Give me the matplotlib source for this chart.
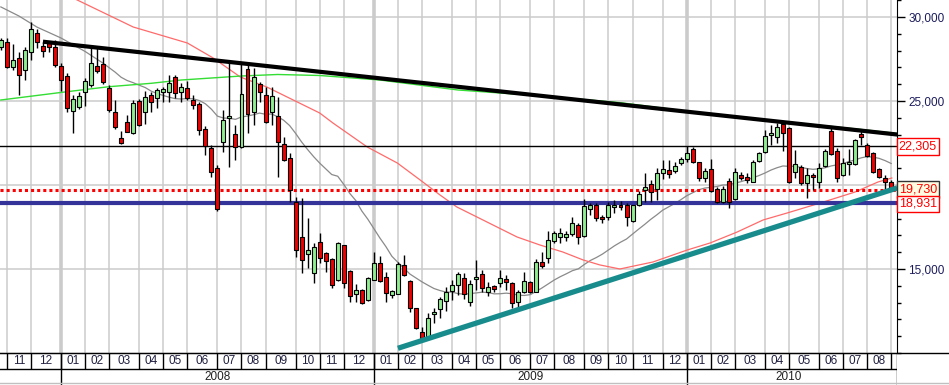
import matplotlib
matplotlib.use("Agg")
import matplotlib.pyplot as plt
from matplotlib.patches import Rectangle
from matplotlib.lines import Line2D
import numpy as np
import pandas as pd

plt.rcParams['font.family'] = ['Liberation Sans', 'DejaVu Sans']

# weekly candles, first week starts Mon 2007-10-29
first_week = '2007-10-29'

opens = [28215, 28530, 27042, 27578, 26846, 27899, 29030, 28274, 28435, 28197,
         27102, 26488, 24423, 24661, 25518, 25953, 27102, 27185, 25792, 24328,
         22780, 23733, 23078, 25000, 24316, 25358, 25161, 25554, 25554, 26411,
         25518, 25756, 25060, 24804, 23334, 22185, 20995, 22542, 23971, 23036,
         22245, 26905, 24364, 25994, 25358, 24364, 24108, 22423, 21626, 19007,
         16924, 15876, 14745, 16590, 15936, 15596, 14346, 16430, 14882, 13495,
         13751, 13156, 14346, 15340, 14507, 13454, 13495, 15239, 14305, 12662,
         11269, 10876, 12305, 12602, 13096, 13692, 14049, 14447, 13055, 14388,
         14704, 13650, 13989, 14186, 14406, 14150, 13019, 13614, 14245, 13650,
         15400, 15638, 16668, 16924, 16924, 17066, 17620, 16965, 18554, 18810,
         18114, 18078, 18709, 18810, 18810, 17858, 18810, 19703, 20060, 19745,
         20697, 20894, 20834, 21292, 21530, 22126, 21352, 20400, 20935, 19763,
         19007, 20257, 19150, 20596, 20495, 20197, 21447, 21983, 22977, 22876,
         23632, 23376, 20792, 21054, 20138, 20578, 20197, 21132, 23233, 22006,
         20596, 21251, 21233, 23036, 22382, 21923, 20935, 20400, 20179]

closes = [28631, 27042, 27441, 26548, 28036, 29286, 28494, 27994, 28197, 27143,
          26233, 24602, 25102, 25316, 26191, 27244, 26804, 26131, 24465, 23453,
          22519, 23173, 24864, 23572, 25239, 24959, 25655, 25715, 26090, 25459,
          25816, 25161, 24762, 23274, 22340, 20792, 18554, 23870, 24108, 22245,
          25399, 24227, 26447, 25518, 23768, 25298, 22542, 21489, 19703, 16132,
          15537, 16132, 16328, 15638, 15477, 14049, 16531, 14150, 13394, 13751,
          12960, 14447, 15340, 14287, 13555, 13692, 15281, 14644, 12662, 11507,
          10876, 12067, 12460, 13216, 13650, 14049, 14704, 13495, 14090, 14507,
          13888, 13948, 13829, 14447, 14245, 12960, 13614, 14287, 13614, 15400,
          15197, 16709, 17126, 17126, 17084, 17721, 16924, 18751, 18810, 18019,
          17959, 18810, 18810, 18709, 18078, 18810, 19447, 19864, 19602, 20697,
          20935, 20656, 21132, 21530, 21923, 21352, 20400, 20834, 19644, 19007,
          19763, 19007, 20792, 20435, 20298, 21388, 21923, 22917, 23114, 23471,
          23078, 20197, 21251, 20102, 20596, 20459, 20995, 22042, 21828, 20400,
          21328, 21388, 22679, 22876, 21727, 20792, 20459, 20197, 19730]

highs = [28750, 28732, 28393, 27935, 28232, 29685, 29286, 28530, 28572, 28631,
         27244, 26649, 25358, 25518, 26352, 28232, 28137, 27637, 25953, 25030,
         23215, 24167, 25060, 25090, 25578, 25518, 25756, 25852, 26548, 26548,
         26054, 26191, 25358, 24959, 23530, 22382, 21191, 24465, 27340, 23572,
         27185, 27143, 26947, 26149, 25852, 25852, 25256, 22876, 21888, 19287,
         19209, 18019, 16531, 17126, 16031, 15656, 16578, 16447, 14942, 14108,
         13781, 14543, 16031, 15793, 14840, 13751, 15436, 15834, 14346, 12698,
         11567, 12400, 12662, 13352, 13948, 14346, 14840, 14745, 14346, 15537,
         14942, 14245, 14049, 14942, 14644, 14245, 13751, 14840, 14269, 15596,
         16031, 17263, 17263, 17459, 17263, 18114, 17721, 19168, 18912, 18912,
         18215, 19007, 19108, 19066, 18912, 18830, 19644, 20697, 20298, 20995,
         21489, 21489, 21388, 21685, 22322, 22280, 21370, 20995, 21530, 19900,
         19941, 20417, 20995, 20775, 20715, 21489, 21983, 23274, 23572, 23709,
         23709, 23471, 22084, 21191, 20995, 20697, 21292, 22126, 23376, 22185,
         21590, 22126, 22721, 23274, 22483, 21983, 20995, 20596, 20298]

lows = [28036, 26947, 26846, 25358, 26250, 27441, 28173, 27637, 27899, 27042,
        25596, 24364, 23078, 24524, 24721, 25852, 26649, 26012, 24316, 23334,
        22411, 23155, 23050, 23530, 23614, 24364, 24602, 24959, 24959, 25161,
        24959, 25060, 24524, 22977, 21786, 20495, 18453, 21983, 21090, 21489,
        22185, 23078, 23572, 24959, 23673, 23572, 20495, 21429, 19007, 15733,
        14763, 15043, 14186, 15340, 14840, 13852, 14299, 13852, 13055, 13055,
        12900, 13096, 14317, 14245, 13055, 13257, 13483, 14602, 12459, 11430,
        10835, 10860, 11769, 12067, 12501, 13156, 13454, 13216, 12817, 13751,
        13614, 13412, 13650, 13948, 13751, 12698, 12662, 13555, 13590, 13614,
        15078, 15340, 16531, 16531, 16668, 16983, 16471, 16924, 18215, 17858,
        17721, 17918, 18316, 18513, 17560, 17800, 18751, 19007, 19007, 19108,
        20340, 20400, 20697, 21191, 21388, 21292, 20257, 20197, 19602, 18947,
        18929, 18614, 19108, 20298, 20120, 20179, 21388, 21888, 22382, 22483,
        22042, 20102, 20400, 20001, 19209, 19703, 19805, 21090, 21786, 20197,
        20536, 20596, 21191, 22382, 21650, 20697, 20400, 19703, 19700]

# long moving averages (week index, value)
green_ma_idx = [0, 11, 18, 25, 30, 40, 46, 53, 63, 76, 90, 103, 116, 130, 143, 149]
green_ma_val = [25060, 25554, 25852, 26054, 26250, 26488, 26578, 26518, 26250,
                25655, 25298, 24899, 24304, 23780, 23304, 23066]
red_ma_idx = [0, 12.7, 22, 31, 35.3, 39.8, 44.2, 48.6, 53, 55.2, 60.9, 65.9, 69.7,
              73, 75.8, 80.8, 85.8, 89.6, 93.4, 96.8, 99.6, 102.9, 108.4, 114.1,
              117.9, 122.4, 126.7, 130.7, 136.2, 142, 145.8, 148.1]
red_ma_val = [33214, 31012, 29405, 28453, 27560, 26429, 25834, 25060, 24286, 23691,
              22263, 21310, 20298, 19405, 18691, 17799, 16906, 16430, 16013, 15537,
              15239, 15001, 15418, 16132, 16549, 17203, 17918, 18334, 18929, 19584,
              20179, 20417]
# start of the 20-week average (needs data before the window)
gray_early_idx = [0, 3, 6, 10, 14, 17]
gray_early_val = [30600, 30060, 29400, 28750, 27950, 27250]

# drawn lines
resist_idx = [7, 149]
resist_val = [28530, 23004]
support_idx = [66, 149]
support_val = [10281, 19826]
level_black = 22305
level_last = 19730
level_blue = 18931

n = len(closes)
weeks = pd.date_range(first_week, periods=n, freq='W-MON')
xs = np.arange(n)

fig = plt.figure(figsize=(9.49, 3.85), dpi=100)
pr = 897 / 949
ax = fig.add_axes([0, 32 / 385, pr, 353 / 385])
xlim = (-0.14, 148.96)
ax.set_xlim(*xlim)
ax.set_ylim(10000, 31012)

# month boundaries
ms = [i for i in range(1, n) if weeks[i].month != weeks[i - 1].month]
ms.append(n - 1)
years = [i for i in ms[:-1] if weeks[i].month == 1]

for b in ms:
    is_year = b in years
    ax.axvline(b, color='#cbcbcb', lw=2.6 if is_year else 1.1, zorder=0)
for y in [15000, 20000, 25000, 30000]:
    ax.axhline(y, color='#cbcbcb', lw=1.1, zorder=0)

# moving averages
gray = pd.Series(closes).rolling(20).mean()
g_idx = gray_early_idx + list(range(19, n))
g_val = gray_early_val + list(gray.values[19:])
ax.plot(g_idx, g_val, color='#8a8a8a', lw=0.9, zorder=2)
ax.plot(red_ma_idx, red_ma_val, color='#ff6a6a', lw=0.9, zorder=2)
ax.plot(green_ma_idx, green_ma_val, color='#33dd33', lw=1.0, zorder=2)

# horizontal levels
ax.axhline(level_black, color='black', lw=1.0, zorder=2)
ax.axhline(level_blue, color='#333399', lw=3.0, zorder=2)
ax.axhline(level_last, color='#ff0000', lw=2.2, ls=(0, (1, 1)), zorder=2)

# candles
bw = 0.66
for i in range(n):
    o, h, l, c = opens[i], highs[i], lows[i], closes[i]
    ax.vlines(xs[i], l, h, color='black', lw=1.0, zorder=3)
    fc = '#90ee90' if c >= o else '#ee0000'
    ax.add_patch(Rectangle((xs[i] - bw / 2, min(o, c)), bw, max(abs(c - o), 45),
                           fc=fc, ec='black', lw=0.8, zorder=4))

# trend lines
ax.plot(resist_idx, resist_val, color='black', lw=3.0, zorder=5, solid_capstyle='butt')
ax.plot(support_idx, support_val, color='#188c8c', lw=3.8, zorder=5, solid_capstyle='butt')

for s in ['left', 'top']:
    ax.spines[s].set_visible(False)
ax.spines['right'].set_color('black')
ax.spines['bottom'].set_color('black')
ax.set_xticks([])
ax.yaxis.tick_right()
ax.set_yticks([15000, 20000, 25000, 30000])
# the 20,000 label sits under the price boxes, so it stays empty
ax.set_yticklabels(['15,000', '', '25,000', '30,000'])
ax.set_yticks(np.arange(10000, 31001, 1000), minor=True)
ax.tick_params(axis='y', which='major', length=6, width=1, colors='black',
               labelcolor='#1c1c5c', labelsize=8.5, pad=2)
ax.tick_params(axis='y', which='minor', length=3, width=1, colors='black')

# price boxes on the right
tr = ax.get_yaxis_transform()
ax.text(1.002, level_black, '22,305', transform=tr, ha='left', va='center',
        fontsize=9, color='#ff0000', zorder=10, clip_on=False,
        bbox=dict(boxstyle='square,pad=0.18', fc='white', ec='#ff0000', lw=1))
ax.text(1.002, level_last, '19,730', transform=tr, ha='left', va='center',
        fontsize=9, color='#ff0000', zorder=10, clip_on=False,
        bbox=dict(boxstyle='square,pad=0.18', fc='#fffbe0', ec='#333333', lw=1))
ax.text(1.002, level_blue - 60, '18,931', transform=tr, ha='left', va='center',
        fontsize=9, color='#ff0000', zorder=11, clip_on=False,
        bbox=dict(boxstyle='square,pad=0.18', fc='white', ec='#ff0000', lw=1))

# date axis below
ax2 = fig.add_axes([0, 0, pr, 32 / 385])
ax2.set_xlim(*xlim)
ax2.set_ylim(0, 32)
ax2.axis('off')
ax2.axhline(16, color='black', lw=1)
for b in ms:
    ax2.vlines(b, 16, 32, color='black', lw=1)
for b in years:
    ax2.vlines(b, 0, 32, color='black', lw=1)
ax2.vlines(xlim[1] - 0.05, 0, 32, color='black', lw=1)
for k in range(len(ms) - 1):
    a, b = ms[k], ms[k + 1]
    ax2.text((a + b) / 2, 24, weeks[a].strftime('%m'), ha='center', va='center',
             fontsize=8.5, color='#202040')
ybounds = years + [ms[-1]]
for k in range(len(ybounds) - 1):
    a, b = ybounds[k], ybounds[k + 1]
    ax2.text((a + b) / 2, 8, str(weeks[a].year), ha='center', va='center',
             fontsize=8.5, color='#202020')

fig.add_artist(Line2D([0, 1], [32 / 385, 32 / 385], color='black', lw=1,
                      transform=fig.transFigure))
fig.add_artist(Line2D([0, 1], [2 / 385, 2 / 385], color='#c0c0c0', lw=1,
                      transform=fig.transFigure))

fig.savefig('out.png', dpi=100, facecolor='white')
